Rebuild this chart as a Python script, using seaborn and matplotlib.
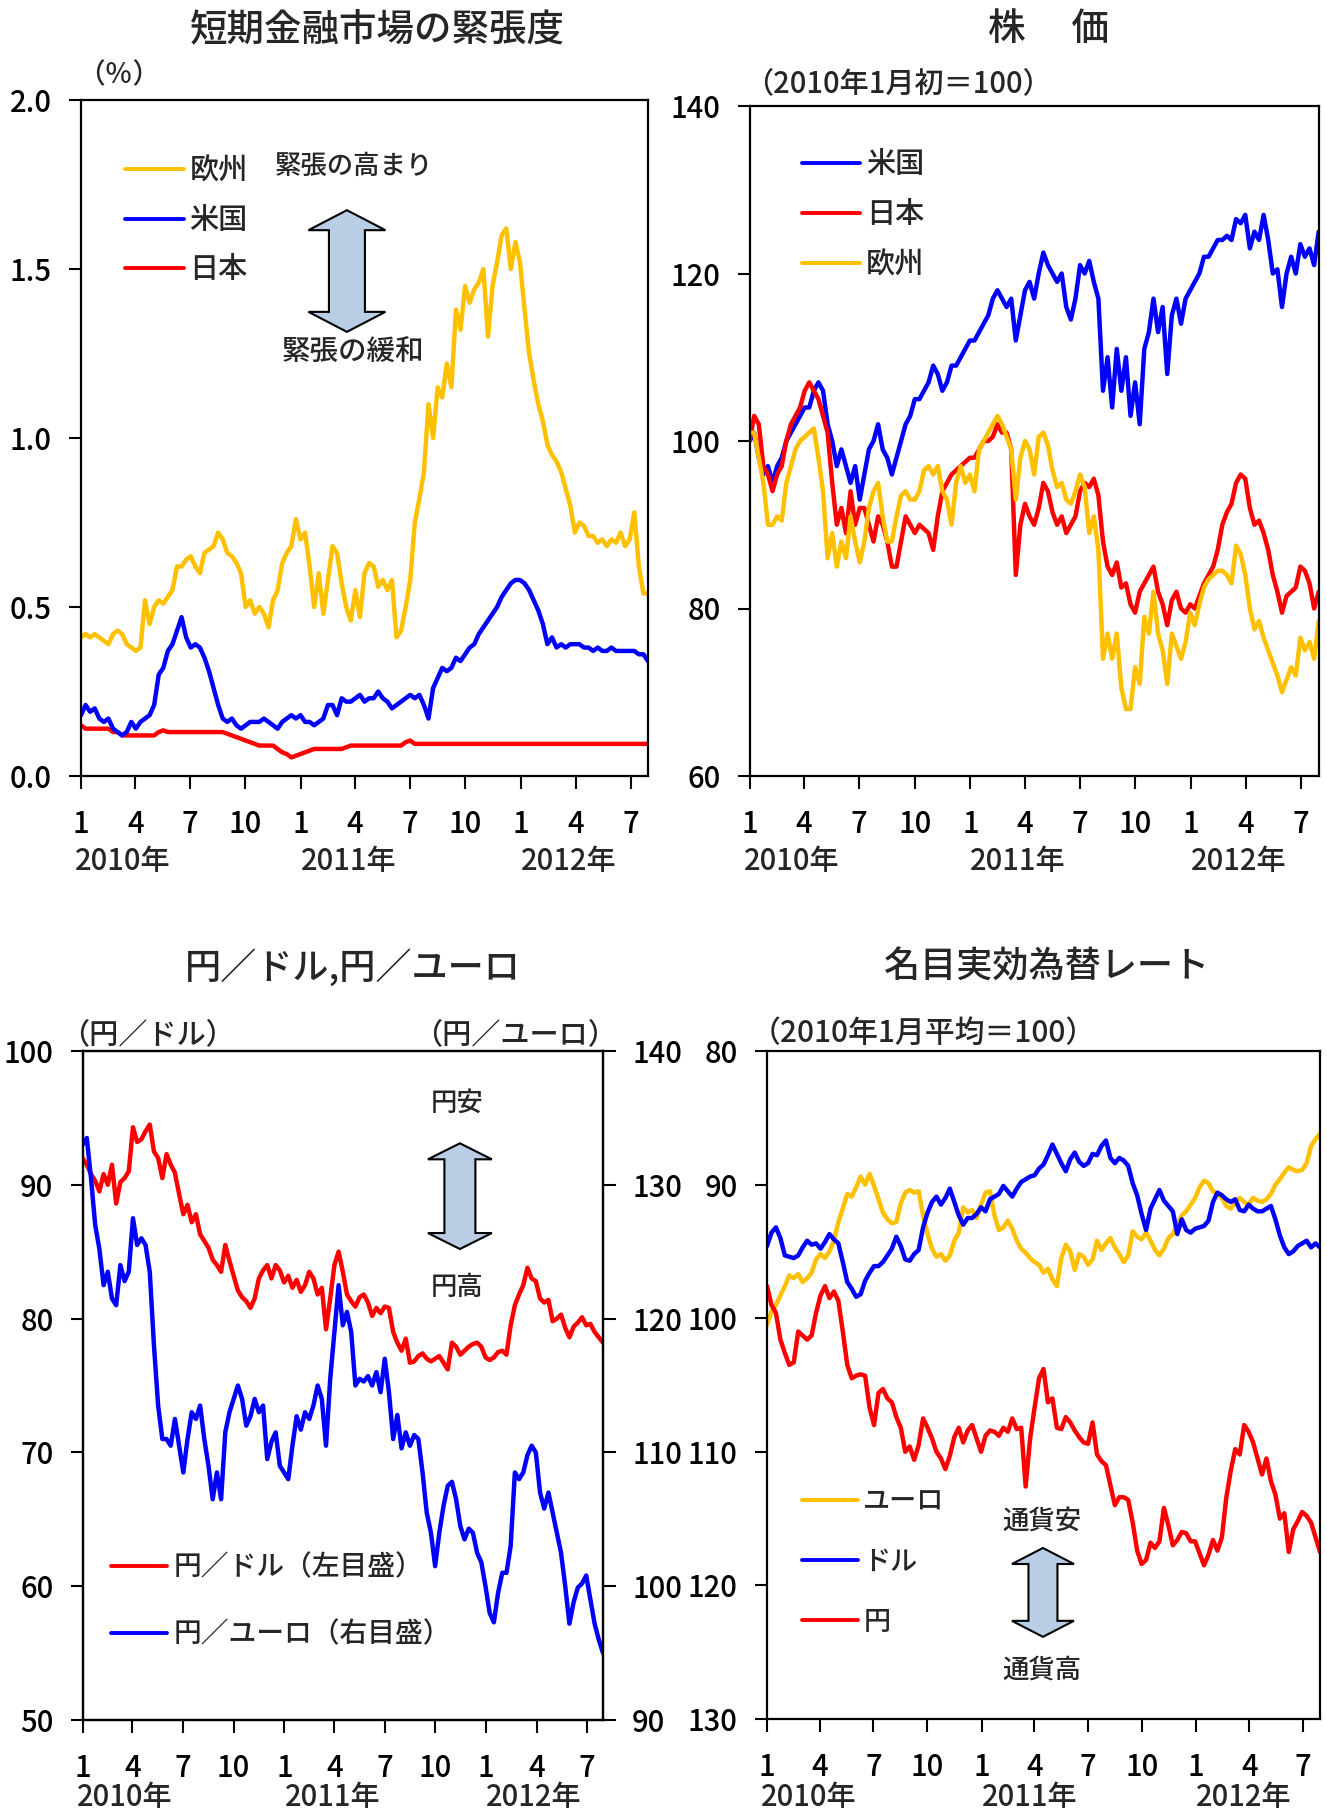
import matplotlib
matplotlib.use("Agg")
import matplotlib.pyplot as plt
from matplotlib.patches import Polygon
import pandas as pd
import seaborn as sns

# ---------------------------------------------------------------- data
START, END = "2010-01-01", "2012-07-30"

# short-term money market tension (%), roughly weekly
tension_eu = [
    0.41, 0.42, 0.41, 0.42, 0.41, 0.40, 0.39, 0.42, 0.43, 0.42, 0.39, 0.38, 0.37, 0.38, 0.52, 0.45,
    0.50, 0.52, 0.51, 0.53, 0.55, 0.62, 0.62, 0.64, 0.65, 0.62, 0.60, 0.66, 0.67, 0.68, 0.72, 0.70,
    0.66, 0.65, 0.63, 0.60, 0.50, 0.52, 0.48, 0.50, 0.48, 0.44, 0.52, 0.55, 0.63, 0.66, 0.68, 0.76,
    0.70, 0.72, 0.62, 0.50, 0.60, 0.48, 0.58, 0.68, 0.66, 0.57, 0.50, 0.46, 0.55, 0.47, 0.60, 0.63,
    0.62, 0.56, 0.58, 0.55, 0.58, 0.41, 0.43, 0.50, 0.58, 0.75, 0.82, 0.90, 1.10, 1.00, 1.15, 1.12,
    1.22, 1.15, 1.38, 1.32, 1.45, 1.40, 1.44, 1.46, 1.50, 1.30, 1.45, 1.52, 1.60, 1.62, 1.50, 1.58,
    1.52, 1.38, 1.25, 1.17, 1.10, 1.05, 0.98, 0.95, 0.93, 0.90, 0.85, 0.80, 0.72, 0.75, 0.74, 0.71,
    0.71, 0.69, 0.70, 0.68, 0.70, 0.69, 0.72, 0.68, 0.70, 0.78, 0.62, 0.54, 0.54,
]
tension_us = [
    0.18, 0.21, 0.19, 0.20, 0.17, 0.16, 0.17, 0.14, 0.13, 0.12, 0.13, 0.16, 0.14, 0.16, 0.17, 0.18,
    0.21, 0.30, 0.32, 0.37, 0.39, 0.43, 0.47, 0.41, 0.38, 0.39, 0.38, 0.35, 0.31, 0.26, 0.21, 0.17,
    0.16, 0.17, 0.15, 0.14, 0.15, 0.16, 0.16, 0.16, 0.17, 0.16, 0.15, 0.14, 0.16, 0.17, 0.18, 0.17,
    0.18, 0.16, 0.16, 0.15, 0.16, 0.17, 0.21, 0.21, 0.18, 0.23, 0.22, 0.22, 0.23, 0.24, 0.22, 0.23,
    0.23, 0.25, 0.23, 0.22, 0.20, 0.21, 0.22, 0.23, 0.24, 0.23, 0.24, 0.21, 0.17, 0.26, 0.29, 0.32,
    0.31, 0.32, 0.35, 0.34, 0.36, 0.38, 0.39, 0.42, 0.44, 0.46, 0.48, 0.50, 0.53, 0.55, 0.57, 0.58,
    0.58, 0.57, 0.55, 0.52, 0.49, 0.45, 0.39, 0.41, 0.38, 0.39, 0.38, 0.39, 0.39, 0.39, 0.38, 0.38,
    0.37, 0.38, 0.37, 0.37, 0.38, 0.37, 0.37, 0.37, 0.37, 0.37, 0.36, 0.36, 0.34,
]
tension_jp = [
    0.15, 0.14, 0.14, 0.14, 0.14, 0.14, 0.14, 0.13, 0.13, 0.12, 0.12, 0.12, 0.12, 0.12, 0.12, 0.12,
    0.12, 0.13, 0.135, 0.13, 0.13, 0.13, 0.13, 0.13, 0.13, 0.13, 0.13, 0.13, 0.13, 0.13, 0.13, 0.13,
    0.125, 0.12, 0.115, 0.11, 0.105, 0.10, 0.095, 0.09, 0.09, 0.09, 0.09, 0.08, 0.07, 0.065, 0.055, 0.06,
    0.065, 0.07, 0.075, 0.08, 0.08, 0.08, 0.08, 0.08, 0.08, 0.08, 0.085, 0.09, 0.09, 0.09, 0.09, 0.09,
    0.09, 0.09, 0.09, 0.09, 0.09, 0.09, 0.09, 0.10, 0.105, 0.095, 0.095, 0.095, 0.095, 0.095, 0.095, 0.095,
    0.095, 0.095, 0.095, 0.095, 0.095, 0.095, 0.095, 0.095, 0.095, 0.095, 0.095, 0.095, 0.095, 0.095, 0.095, 0.095,
    0.095, 0.095, 0.095, 0.095, 0.095, 0.095, 0.095, 0.095, 0.095, 0.095, 0.095, 0.095, 0.095, 0.095, 0.095, 0.095,
    0.095, 0.095, 0.095, 0.095, 0.095, 0.095, 0.095, 0.095, 0.095, 0.095, 0.095, 0.095, 0.095,
]

# stock prices (early Jan 2010 = 100)
stock_us = [
    100, 101, 98, 96, 97, 95, 97, 98, 100, 101, 102, 103, 104, 104, 106, 107,
    106, 102, 100, 97, 99, 97, 95, 97, 93, 96, 99, 100, 102, 99, 98, 96,
    98, 100, 102, 103, 105, 105, 106, 107, 109, 108, 106, 107, 109, 109, 110, 111,
    112, 112, 113, 114, 115, 117, 118, 117, 116, 117, 112, 115, 118, 119, 117, 120,
    122.5, 121, 120, 119, 120, 116, 114.5, 117, 121, 120, 121.5, 119, 117, 106, 110, 104,
    111, 106, 110, 103, 107, 102, 111, 113, 117, 113, 116, 108, 115, 117, 114, 117,
    118, 119, 120, 122, 122, 123, 124, 124, 124.5, 124, 126.5, 126, 127, 123, 125, 124,
    127, 124, 120, 120.5, 116, 120, 122, 120, 123.5, 122, 123, 121, 125,
]
stock_jp = [
    100, 103, 102, 97, 96, 94, 96, 97, 100, 102, 103, 104, 106, 107, 106, 105,
    103, 101, 95, 90, 92, 89, 94, 90, 92, 92, 90, 88, 91, 90, 88, 85,
    85, 88, 91, 90, 89, 90, 89.5, 89, 87, 91, 94, 95, 96, 96.5, 97, 97.5,
    98, 98, 99, 100, 100, 100.5, 102, 101, 101, 99, 84, 90, 92.5, 91, 90, 92,
    95, 94, 91.5, 90, 91, 89, 90, 91, 94, 95, 94.5, 95.5, 93.5, 88, 85, 84,
    85.5, 82.5, 83, 80.5, 79.5, 82, 83, 84, 85, 82, 80.5, 78, 81, 82, 80, 79.5,
    80.5, 80, 81.5, 83, 84, 85, 87, 90, 91.5, 92.5, 95, 96, 95.5, 92, 90, 90.5,
    89, 87, 84, 82, 79.5, 81.5, 82, 82.5, 85, 84.5, 83, 80, 82,
]
stock_eu = [
    101, 101, 98, 95, 90, 90, 91, 90.5, 95, 97, 99, 100, 100.5, 101, 101.5, 98,
    94, 86, 89, 85, 88, 86, 91, 88, 85.5, 88, 92, 94, 95, 91, 88, 88,
    91, 93.5, 94, 93, 93, 94, 96.5, 97, 96, 97, 94, 93, 90, 95, 97, 95,
    96, 94, 99, 100, 101, 102, 103, 102, 100.5, 99, 93, 98, 100, 99, 96, 100.5,
    101, 99.5, 96.5, 94.5, 95, 93, 92.5, 94, 96, 94.5, 89, 91, 87, 74, 77, 74,
    77, 70.5, 68, 68, 73, 71, 79, 77, 82, 77, 75, 71, 77, 75.5, 74, 76,
    79.5, 78, 80.5, 82.5, 83.5, 84, 84.5, 84.5, 84, 83, 87.5, 86.5, 84, 80, 77.5, 78.5,
    76.5, 75, 73.5, 72, 70, 71.5, 73, 72, 76.5, 75, 76, 74, 78.5,
]

# yen per dollar (left scale) and yen per euro (right scale)
jpy_usd = [
    92, 91.5, 90.8, 90.3, 89.5, 90.8, 90, 91.5, 88.6, 90.2, 90.5, 91, 94.3, 93.2, 93.4, 94,
    94.5, 92.5, 92, 90.5, 92.3, 91.5, 90.9, 89.3, 87.8, 88.5, 87.2, 87.8, 86.3, 85.8, 85.3, 84.4,
    84, 83.5, 85.5, 84.3, 83.2, 82.1, 81.6, 81.3, 80.8, 81.5, 83, 83.6, 84, 83, 84, 83.6,
    82.7, 83.2, 82.3, 82.9, 82, 82.5, 83.5, 83, 81.8, 82.3, 79.2, 81.5, 84, 85, 83.5, 81.8,
    81.3, 80.9, 81.6, 81.8, 81.2, 80.2, 80.8, 80.4, 80.9, 80.8, 79, 78.2, 77.6, 78.5, 76.7, 76.8,
    77.2, 77.4, 77, 76.8, 77, 77.2, 76.7, 76.2, 78.2, 77.9, 77.3, 77.6, 77.9, 78.1, 78.2, 77.9,
    77.1, 76.9, 77.1, 77.5, 77.6, 77.3, 79.5, 81, 81.8, 82.5, 83.8, 83, 82.8, 81.5, 81.2, 81.4,
    79.8, 80, 80.3, 79.3, 78.6, 79.4, 79.7, 80.1, 79.5, 79.6, 79, 78.6, 78.2,
]
jpy_eur = [
    133, 133.5, 130.5, 127, 125.2, 122.5, 123.5, 121.5, 121, 124, 122.8, 123.5, 127.5, 125.5, 126, 125.5,
    123.5, 118, 113.5, 111, 111, 110.5, 112.5, 110.5, 108.5, 111, 113, 112.5, 113.5, 111, 109, 106.5,
    108.5, 106.5, 111.5, 113, 114, 115, 114, 112, 112.7, 114, 113, 113.5, 109.5, 110.8, 111.5, 109,
    108.5, 108, 110.5, 112.7, 111.7, 113, 112.5, 113.5, 115, 114, 110.5, 115.5, 119, 122.5, 119.5, 120.5,
    119, 115, 115.5, 115.3, 115.7, 115, 116, 114.5, 117, 114.5, 111, 112.8, 110.3, 111.5, 110.5, 111.3,
    111, 108.5, 105.5, 104, 101.5, 104, 106, 107.5, 107.8, 106.5, 104.5, 103.5, 104.3, 104, 102.5, 101.8,
    100, 98, 97.3, 99.5, 101, 101, 103, 108.5, 108, 108.5, 109.8, 110.5, 110, 107, 105.8, 107,
    105.5, 104, 102.5, 100, 97.2, 98.8, 99.9, 100.2, 100.8, 99, 97.2, 96, 95,
]

# nominal effective exchange rates (Jan 2010 average = 100)
neer_eur = [
    100.5, 99.5, 99, 98.3, 97.6, 96.8, 97, 96.7, 97.3, 97, 96.6, 95.6, 95.2, 95.5, 95, 94.2,
    92.8, 91.8, 90.7, 90.9, 90.2, 89.4, 90, 89.2, 90.1, 91.1, 92.1, 92.6, 92.9, 92.8, 91.4, 90.6,
    90.4, 90.6, 90.5, 92.3, 93.7, 94.8, 95.4, 95.2, 95.7, 95.3, 94.2, 93.6, 91.7, 92.1, 91.9, 92.5,
    91.5, 90.6, 90.5, 92.3, 93.4, 93.2, 92.7, 93.3, 94.2, 94.8, 95.1, 95.5, 95.8, 96, 96.6, 96.3,
    97.1, 97.6, 95.5, 94.5, 95, 96.4, 95.2, 95.4, 96, 95.6, 94.2, 94.9, 94.4, 94, 94.7, 95.2,
    95.8, 95.3, 93.5, 93.9, 94.1, 93.6, 94.2, 94.9, 95.3, 94.8, 94, 93.7, 93, 92.3, 92, 91.5,
    91, 90.2, 89.7, 89.9, 90.5, 90.7, 91, 91.6, 91.8, 91.3, 91, 91.3, 91.5, 91, 91.2, 91.3,
    91.1, 90.7, 90, 89.6, 89.1, 88.7, 88.9, 89, 88.9, 88.4, 87.1, 86.6, 86.2,
]
neer_usd = [
    94.6, 93.6, 93.2, 94, 95.3, 95.4, 95.5, 95.3, 94.7, 94.2, 94.5, 94.4, 94.8, 94.3, 93.7, 94.1,
    94.4, 95.8, 97.3, 97.8, 98.4, 98.2, 97.2, 96.6, 96.1, 96.1, 95.8, 95.3, 94.8, 93.9, 94.6, 95.6,
    95.7, 95.2, 94.9, 93.2, 92.1, 91.3, 90.9, 91.5, 91, 90.3, 91.3, 92.3, 93, 92.5, 92.5, 92.2,
    91.7, 92, 91.1, 90.9, 90.7, 90.1, 90.5, 90.9, 90.3, 89.8, 89.6, 89.4, 89.3, 88.8, 88.5, 87.8,
    87, 87.7, 88.4, 89, 88.1, 87.6, 88.3, 88.6, 88.4, 87.7, 87.8, 87.1, 86.7, 88, 88.4, 88,
    88.2, 88.6, 89.9, 90.8, 92.2, 93.4, 91.8, 91.1, 90.4, 91.2, 91.6, 92, 93.7, 92.6, 93.4, 93.6,
    93.3, 93.2, 93.1, 92.7, 91.3, 90.6, 90.8, 91.1, 91.3, 91.1, 91.9, 92, 91.5, 91.8, 92, 92,
    91.8, 91.6, 92.6, 93.8, 94.7, 95.2, 95, 94.6, 94.4, 94.2, 94.7, 94.4, 94.7,
]
neer_jpy = [
    97.6, 99, 99.6, 101.6, 102.6, 103.5, 103.3, 101, 101.3, 101.6, 101.3, 99.6, 98.3, 97.6, 98.5, 98,
    98.7, 101, 103.5, 104.5, 104.3, 104.2, 104.3, 106.7, 108, 105.6, 105.3, 106, 106.3, 107.4, 108.2, 110,
    109.6, 110.6, 109.5, 107.5, 108.2, 109, 110, 110.5, 111.3, 110.3, 108.9, 108.2, 109.3, 108.4, 108, 109,
    110, 108.8, 108.4, 108.5, 108.8, 108.2, 108.5, 107.5, 108.3, 108.2, 112.6, 109, 106.7, 104.5, 103.8, 106.3,
    106, 108.2, 108.3, 107.4, 107.8, 108.4, 108.9, 109.3, 109.4, 107.8, 110.2, 110.7, 111, 112.5, 114, 113.4,
    113.4, 113.6, 115.3, 117.4, 118.4, 118.1, 116.8, 117.2, 116.7, 114.2, 115.5, 117, 116.6, 116, 116.1, 116.7,
    116.7, 117.6, 118.5, 117.7, 116.6, 117.4, 116.4, 113.4, 111.4, 109.8, 110.2, 108, 108.5, 109.3, 110.5, 111.7,
    110.5, 112.2, 113.2, 115, 114.6, 117.5, 115.8, 115.2, 114.5, 114.8, 115.3, 116.4, 117.5,
]

month_ticks = pd.to_datetime([
    "2010-01-01", "2010-04-01", "2010-07-01", "2010-10-01",
    "2011-01-01", "2011-04-01", "2011-07-01", "2011-10-01",
    "2012-01-01", "2012-04-01", "2012-07-01",
])
month_labels = ["1", "4", "7", "10", "1", "4", "7", "10", "1", "4", "7"]
year_starts = pd.to_datetime(["2010-01-01", "2011-01-01", "2012-01-01"])
year_labels = ["2010年", "2011年", "2012年"]

YELLOW, BLUE, RED = "#FFC000", "#0000FF", "#FF0000"
ARROW_FILL = "#B9CDE5"

# ---------------------------------------------------------------- style
sns.set_theme(style="ticks")
plt.rcParams["font.family"] = ["Noto Sans CJK JP", "DejaVu Sans"]
plt.rcParams["font.weight"] = "medium"

W, H = 1327, 1816
fig = plt.figure(figsize=(W / 100, H / 100), dpi=100)


def rect(left, top, right, bottom):
    return [left / W, 1 - bottom / H, (right - left) / W, (bottom - top) / H]


def dates_for(values):
    return pd.date_range(START, END, periods=len(values))


def draw(ax, values, color, label):
    sns.lineplot(x=dates_for(values), y=values, ax=ax, color=color, linewidth=3.2,
                 label=label, legend=False, estimator=None, sort=False)
    line = ax.lines[-1]
    line.set_solid_joinstyle("round")
    return line


def style_axes(ax, year_dy=-85):
    for side in ax.spines.values():
        side.set_visible(True)
        side.set_color("black")
        side.set_linewidth(1.6)
    ax.set_xlim(pd.Timestamp(START), pd.Timestamp(END))
    ax.set_xticks(month_ticks)
    ax.set_xticklabels(month_labels)
    ax.tick_params(axis="x", direction="out", length=9, width=1.5, labelsize=21,
                   pad=15, colors="black")
    ax.tick_params(axis="y", direction="out", length=9, width=1.5, labelsize=21,
                   pad=12, colors="black")
    ax.set_xlabel("")
    ax.set_ylabel("")
    ax.grid(False)
    for d, lab, dx in zip(year_starts, year_labels, (-6, 0, 0)):
        ax.annotate(lab, xy=(d, 0), xycoords=("data", "axes fraction"),
                    xytext=(dx, year_dy), textcoords="offset pixels",
                    ha="left", va="center", fontsize=21)


def double_arrow(ax, xc, ytop, ybot, head_hw, shaft_hw, head_len):
    pos = ax.get_position()
    wpx, hpx = pos.width * W, pos.height * H
    hx, sx, hl = head_hw / wpx, shaft_hw / wpx, head_len / hpx
    pts = [(xc, ytop), (xc + hx, ytop - hl), (xc + sx, ytop - hl), (xc + sx, ybot + hl),
           (xc + hx, ybot + hl), (xc, ybot), (xc - hx, ybot + hl), (xc - sx, ybot + hl),
           (xc - sx, ytop - hl), (xc - hx, ytop - hl)]
    ax.add_patch(Polygon(pts, closed=True, transform=ax.transAxes, facecolor=ARROW_FILL,
                         edgecolor="black", linewidth=1.5, zorder=6, clip_on=False))


def legend(ax, handles, labels, anchor, size, spacing, hlen=2.0, tpad=0.2):
    leg = ax.legend(handles, labels, loc="upper left", bbox_to_anchor=anchor, frameon=False,
                    fontsize=size, handlelength=hlen, handletextpad=tpad,
                    labelspacing=spacing, borderpad=0, borderaxespad=0)
    for ln in leg.get_lines():
        ln.set_linewidth(2.8)


# ---------------------------------------------------------------- panel 1
ax1 = fig.add_axes(rect(81, 100, 648, 776))
h_jp = draw(ax1, tension_jp, RED, "日本")
h_us = draw(ax1, tension_us, BLUE, "米国")
h_eu = draw(ax1, tension_eu, YELLOW, "欧州")
ax1.set_ylim(0, 2.0)
ax1.set_yticks([0, 0.5, 1.0, 1.5, 2.0])
ax1.set_yticklabels(["0.0", "0.5", "1.0", "1.5", "2.0"])
style_axes(ax1)
legend(ax1, [h_eu, h_us, h_jp], ["欧州", "米国", "日本"], (0.078, 0.918), 21, 0.63)
ax1.text(-0.007, 1.038, "（％）", transform=ax1.transAxes, fontsize=20, ha="left", va="center")
ax1.text(0.481, 0.901, "緊張の高まり", transform=ax1.transAxes, fontsize=19, ha="center", va="center")
ax1.text(0.480, 0.627, "緊張の緩和", transform=ax1.transAxes, fontsize=20.5, ha="center", va="center")
double_arrow(ax1, 0.469, 0.837, 0.657, 38.5, 18, 20)
fig.text(377 / W, 1 - 29 / H, "短期金融市場の緊張度", fontsize=27, ha="center", va="center")

# ---------------------------------------------------------------- panel 2
ax2 = fig.add_axes(rect(749.6, 106, 1318.7, 776))
s_us = draw(ax2, stock_us, BLUE, "米国")
s_jp = draw(ax2, stock_jp, RED, "日本")
s_eu = draw(ax2, stock_eu, YELLOW, "欧州")
ax2.set_ylim(60, 140)
ax2.set_yticks([60, 80, 100, 120, 140])
style_axes(ax2)
legend(ax2, [s_us, s_jp, s_eu], ["米国", "日本", "欧州"], (0.0916, 0.936), 21, 0.66)
ax2.text(-0.010, 1.034, "（2010年1月初＝100）", transform=ax2.transAxes, fontsize=21,
         ha="left", va="center")
fig.text(1048 / W, 1 - 29 / H, "株　 価", fontsize=27, ha="center", va="center")

# ---------------------------------------------------------------- panel 3
ax3 = fig.add_axes(rect(82.6, 1051, 603, 1720))
ax3r = ax3.twinx()
f_usd = draw(ax3, jpy_usd, RED, "円／ドル（左目盛）")
f_eur = draw(ax3r, jpy_eur, BLUE, "円／ユーロ（右目盛）")
ax3.set_ylim(50, 100)
ax3.set_yticks([50, 60, 70, 80, 90, 100])
ax3r.set_ylim(90, 140)
ax3r.set_yticks([90, 100, 110, 120, 130, 140])
style_axes(ax3, year_dy=-78)
for side in ax3r.spines.values():
    side.set_color("black")
    side.set_linewidth(1.6)
ax3r.tick_params(axis="y", direction="out", length=9, width=1.5, labelsize=21, pad=12,
                 colors="black")
ax3r.set_ylabel("")
ax3r.grid(False)
legend(ax3r, [f_usd, f_eur], ["円／ドル（左目盛）", "円／ユーロ（右目盛）"],
       (0.055, 0.250), 20, 1.35, hlen=2.0, tpad=0.25)
ax3.text(-0.043, 1.024, "（円／ドル）", transform=ax3.transAxes, fontsize=21,
         ha="left", va="center")
ax3.text(1.027, 1.024, "（円／ユーロ）", transform=ax3.transAxes, fontsize=21,
         ha="right", va="center")
ax3r.text(0.72, 0.922, "円安", transform=ax3.transAxes, fontsize=19, ha="center", va="center")
ax3r.text(0.72, 0.646, "円高", transform=ax3.transAxes, fontsize=19, ha="center", va="center")
double_arrow(ax3r, 0.725, 0.862, 0.704, 32, 15.5, 16)
fig.text(353 / W, 1 - 968 / H, "円／ドル,円／ユーロ", fontsize=26, ha="center", va="center")

# ---------------------------------------------------------------- panel 4
ax4 = fig.add_axes(rect(767, 1051, 1320, 1719))
n_eur = draw(ax4, neer_eur, YELLOW, "ユーロ")
n_usd = draw(ax4, neer_usd, BLUE, "ドル")
n_jpy = draw(ax4, neer_jpy, RED, "円")
ax4.set_ylim(130, 80)
ax4.set_yticks([80, 90, 100, 110, 120, 130])
style_axes(ax4, year_dy=-78)
legend(ax4, [n_eur, n_usd, n_jpy], ["ユーロ", "ドル", "円"], (0.063, 0.345), 19.5, 1.22,
       hlen=2.07, tpad=0.2)
ax4.text(-0.030, 1.027, "（2010年1月平均＝100）", transform=ax4.transAxes, fontsize=21.5,
         ha="left", va="center")
ax4.text(0.498, 0.295, "通貨安", transform=ax4.transAxes, fontsize=19, ha="center", va="center")
ax4.text(0.498, 0.073, "通貨高", transform=ax4.transAxes, fontsize=19, ha="center", va="center")
double_arrow(ax4, 0.499, 0.256, 0.123, 31, 14.5, 16)
fig.text(1047 / W, 1 - 968 / H, "名目実効為替レート", fontsize=26, ha="center", va="center")

fig.savefig("out.png", dpi=100)
